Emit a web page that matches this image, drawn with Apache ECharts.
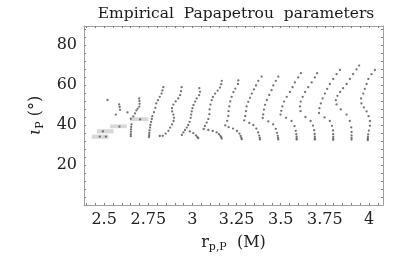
<!DOCTYPE html>
<html>
<head>
<meta charset="utf-8">
<script src="https://cdn.jsdelivr.net/npm/echarts@6/dist/echarts.min.js"></script>
<style>
html, body { margin: 0; padding: 0; background: #fff; }
#chart { width: 415px; height: 258px; }
</style>
</head>
<body>
<div id="chart"></div>
<script>
// axis ranges and ticks
var xMin = 2.386, xMax = 4.079;
var yMin = 0, yMax = 89.5;
var xLabels = [2.5, 2.75, 3, 3.25, 3.5, 3.75, 4];
var xTicks = [2.4, 2.45, 2.5, 2.55, 2.6, 2.65, 2.7, 2.75, 2.8, 2.85, 2.9, 2.95, 3, 3.05, 3.1, 3.15, 3.2,
    3.25, 3.3, 3.35, 3.4, 3.45, 3.5, 3.55, 3.6, 3.65, 3.7, 3.75, 3.8, 3.85, 3.9, 3.95, 4, 4.05];
var yLabels = [20, 40, 60, 80];
var yTicks = [4, 8, 12, 16, 20, 24, 28, 32, 36, 40, 44, 48, 52, 56, 60, 64, 68, 72, 76, 80, 84, 88];

// grey boxes: [x0, x1, y0, y1]
var boxes = [
    [2.43, 2.525, 33.1, 35.2],
    [2.459, 2.553, 35.8, 37.9],
    [2.534, 2.628, 38.4, 40.3],
    [2.647, 2.75, 42.0, 43.9]
];

// point groups
var leftPts = [[2.475, 34.2], [2.51, 34.2], [2.493, 36.8], [2.587, 39.2], [2.704, 42.8],
    [2.519, 52.5], [2.585, 50.3], [2.588, 49.0], [2.59, 47.6], [2.566, 45.2], [2.632, 46.3], [2.651, 43.1]];
var curve265 = [[2.651, 34.4], [2.651, 35.4], [2.652, 36.6], [2.652, 37.8], [2.653, 39.0], [2.655, 40.3],
    [2.665, 44.3], [2.675, 45.8], [2.683, 47.3], [2.69, 48.2], [2.699, 49.2], [2.701, 50.6], [2.7, 52.0], [2.698, 53.3]];
var curve275 = [[2.754, 34.0], [2.755, 34.9], [2.756, 36.0], [2.757, 37.3], [2.76, 38.7], [2.762, 40.0], [2.766, 41.5],
    [2.77, 43.0], [2.773, 44.4], [2.782, 46.4], [2.79, 48.6], [2.795, 50.8], [2.805, 52.4], [2.815, 54.1], [2.825, 55.7],
    [2.83, 57.3], [2.835, 58.9]];
var curve290 = [[2.939, 58.9], [2.935, 56.9], [2.93, 54.9], [2.92, 53.3], [2.905, 51.8], [2.892, 50.2], [2.884, 48.4],
    [2.885, 46.8], [2.892, 45.2], [2.896, 43.6], [2.893, 42.0], [2.884, 40.3], [2.874, 38.7], [2.864, 37.1], [2.848, 35.7],
    [2.832, 34.6], [2.815, 34.5]];
var curve303 = [[3.039, 58.4], [3.043, 56.6], [3.038, 54.9], [3.024, 53.3], [3.015, 51.7], [3.006, 50.0], [3.0, 48.4],
    [2.996, 46.8], [2.993, 45.2], [2.99, 43.6], [2.984, 41.6], [2.976, 40.0], [2.968, 38.7], [2.958, 37.5], [2.949, 36.3],
    [2.94, 35.0], [2.985, 36.8], [3.005, 35.9], [3.02, 34.8], [3.028, 34.0], [3.033, 33.4]];
var curve317 = [[3.166, 62.1], [3.163, 60.4], [3.156, 58.7], [3.143, 57.2], [3.128, 55.7], [3.116, 54.0], [3.109, 52.4],
    [3.102, 50.2], [3.097, 47.8], [3.096, 45.4], [3.09, 43.0], [3.081, 41.2], [3.071, 39.5], [3.064, 38.0], [3.09, 37.5],
    [3.115, 37.0], [3.137, 36.3], [3.15, 35.4], [3.158, 34.6], [3.163, 33.9], [3.166, 33.2]];
var curve327 = [[3.26, 62.3], [3.258, 60.5], [3.243, 58.2], [3.232, 56.4], [3.222, 54.1], [3.214, 51.8], [3.209, 49.3],
    [3.204, 46.9], [3.203, 44.5], [3.197, 42.1], [3.186, 39.8], [3.205, 38.9], [3.23, 38.2], [3.252, 37.0], [3.266, 35.7],
    [3.273, 34.5], [3.277, 33.6], [3.279, 32.9]];
var curve338 = [[3.392, 64.2], [3.373, 62.1], [3.36, 59.8], [3.348, 57.8], [3.336, 55.7], [3.326, 53.6], [3.316, 51.6],
    [3.307, 49.3], [3.303, 46.9], [3.299, 44.5], [3.293, 42.3], [3.322, 41.0], [3.345, 40.0], [3.362, 38.2], [3.372, 36.3],
    [3.378, 34.7], [3.381, 33.6], [3.382, 32.8]];
var curve349 = [[3.486, 64.2], [3.472, 62.1], [3.458, 59.8], [3.448, 57.4], [3.435, 55.0], [3.421, 52.5], [3.411, 50.1],
    [3.405, 47.7], [3.401, 45.3], [3.398, 43.5], [3.43, 41.8], [3.457, 40.3], [3.472, 38.1], [3.479, 36.1], [3.483, 34.6],
    [3.485, 33.6], [3.486, 32.8]];
var curve359 = [[3.614, 65.9], [3.599, 63.8], [3.58, 61.3], [3.567, 58.9], [3.552, 56.5], [3.534, 54.1], [3.519, 51.7],
    [3.509, 49.3], [3.503, 47.1], [3.499, 45.2], [3.53, 43.6], [3.561, 42.0], [3.578, 39.4], [3.585, 37.1], [3.588, 35.4],
    [3.59, 34.2], [3.59, 33.3], [3.59, 32.7]];
var curve369 = [[3.706, 65.9], [3.693, 63.8], [3.675, 61.3], [3.656, 58.9], [3.638, 56.5], [3.624, 54.1], [3.613, 51.7],
    [3.609, 49.3], [3.612, 46.9], [3.64, 44.0], [3.669, 42.0], [3.683, 39.7], [3.689, 37.4], [3.692, 35.5], [3.693, 34.2],
    [3.693, 33.3], [3.693, 32.7]];
var curve379 = [[3.835, 67.5], [3.816, 65.4], [3.797, 63.0], [3.778, 60.5], [3.763, 58.1], [3.75, 55.7], [3.737, 53.3],
    [3.727, 50.8], [3.719, 48.4], [3.717, 46.0], [3.748, 43.8], [3.778, 42.0], [3.79, 39.6], [3.796, 37.3], [3.797, 35.4],
    [3.797, 34.1], [3.797, 33.2], [3.797, 32.6]];
var curve389 = [[3.944, 69.7], [3.929, 67.8], [3.91, 65.4], [3.891, 63.0], [3.873, 60.5], [3.853, 58.4], [3.836, 56.5],
    [3.821, 54.6], [3.812, 52.4], [3.816, 50.3], [3.84, 47.8], [3.873, 45.2], [3.891, 42.0], [3.899, 38.8], [3.901, 36.5],
    [3.901, 34.8], [3.901, 33.6], [3.901, 32.7]];
var curve400 = [[4.033, 67.5], [4.014, 65.4], [3.996, 63.0], [3.986, 60.5], [3.976, 58.1], [3.967, 55.7], [3.955, 53.3],
    [3.957, 50.8], [3.971, 48.8], [3.986, 46.8], [3.997, 44.4], [4.005, 42.0], [4.005, 39.6], [3.999, 37.2], [3.995, 35.3],
    [3.994, 34.0], [3.993, 33.1], [3.993, 32.5]];

var font = "DejaVu Serif";
var frameColor = "#a0a0a0";
var tickColor = "#808080";

var allPts = [].concat(leftPts, curve265, curve275, curve290, curve303, curve317, curve327,
    curve338, curve349, curve359, curve369, curve379, curve389, curve400);

function frameAxis(pos, showLabel, labels, ticks, extra) {
    var ax = {
        type: "value",
        position: pos,
        axisLine: { show: true, onZero: false, lineStyle: { color: frameColor, width: 1 } },
        axisTick: { show: true, inside: true, length: 2, customValues: ticks, lineStyle: { color: tickColor } },
        axisLabel: { show: showLabel, customValues: labels, color: "#222", fontFamily: font, fontSize: 16, margin: 7 },
        splitLine: { show: false }
    };
    for (var k in extra) ax[k] = extra[k];
    return ax;
}

var chart = echarts.init(document.getElementById("chart"));
var option = {
    animation: false,
    title: {
        text: "Empirical  Papapetrou  parameters",
        left: 231,
        top: 1,
        textAlign: "center",
        textStyle: { fontFamily: font, fontSize: 15.5, fontWeight: "normal", color: "#1a1a1a" }
    },
    grid: { left: 84, right: 32, top: 26, bottom: 48 },
    xAxis: [
        frameAxis("bottom", true, xLabels, xTicks, {
            min: xMin, max: xMax,
            name: "{r|r}{s|p,P}{r|  (M)}",
            nameLocation: "middle",
            nameGap: 28,
            nameTextStyle: {
                rich: {
                    r: { fontFamily: font, fontSize: 16, color: "#222" },
                    s: { fontFamily: font, fontSize: 11, color: "#222", padding: [9, 0, 0, 0] }
                }
            }
        }),
        frameAxis("top", false, xLabels, xTicks, { min: xMin, max: xMax })
    ],
    yAxis: [
        frameAxis("left", true, yLabels, yTicks, {
            min: yMin, max: yMax,
            name: "{i|ι}{s|P}{r| (°)}",
            nameLocation: "middle",
            nameRotate: 90,
            nameGap: 29,
            nameTextStyle: {
                rich: {
                    i: { fontFamily: font, fontSize: 17, fontStyle: "italic", color: "#222" },
                    s: { fontFamily: font, fontSize: 11, color: "#222", padding: [9, 0, 0, 0] },
                    r: { fontFamily: font, fontSize: 16, color: "#222" }
                }
            }
        }),
        frameAxis("right", false, yLabels, yTicks, { min: yMin, max: yMax })
    ],
    series: [
        {
            type: "custom",
            data: boxes,
            z: 1,
            renderItem: function (params, api) {
                var p0 = api.coord([api.value(0), api.value(3)]);
                var p1 = api.coord([api.value(1), api.value(2)]);
                return {
                    type: "rect",
                    shape: { x: p0[0], y: p0[1], width: p1[0] - p0[0], height: p1[1] - p0[1] },
                    style: { fill: "#d8d8d8" }
                };
            }
        },
        {
            type: "scatter",
            data: allPts,
            z: 3,
            symbol: "circle",
            symbolSize: 2.3,
            itemStyle: { color: "#505050" }
        }
    ]
};
chart.setOption(option);
</script>
</body>
</html>
